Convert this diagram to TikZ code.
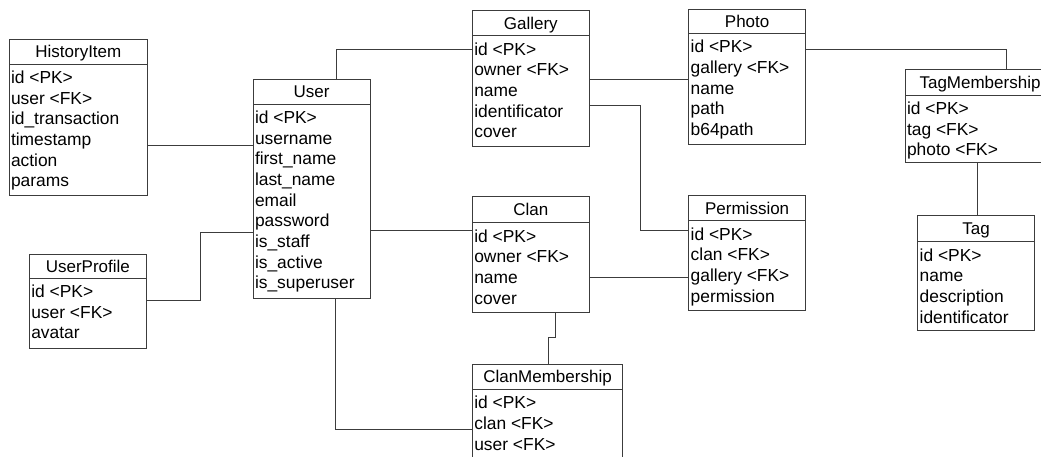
\documentclass[tikz,border=0pt]{standalone}
\usepackage{fontspec}
\setmainfont{Liberation Sans}
\definecolor{linec}{RGB}{60,60,60}
\tikzset{
  erframe/.style={draw=linec, line width=1pt, inner sep=0pt, outer sep=0pt, anchor=north west},
  ertitle/.style={anchor=base, inner sep=0pt, font=\fontsize{17}{20}\selectfont},
  errow/.style={anchor=base west, inner sep=0pt, font=\fontsize{17.4}{20.7}\selectfont},
  conn/.style={draw=linec, line width=1pt}
}
% #1 name, #2 left, #3 right, #4 top, #5 header separator, #6 bottom, #7 title, #8 rows
\newcommand{\erbox}[8]{%
  \node[erframe, minimum width={#3pt-#2pt}, minimum height={#6pt-#4pt}] (#1) at (#2,-#4) {};
  \draw[conn] (#1.west |- 0,-#5) -- (#1.east |- 0,-#5);
  \node[ertitle] (#1-title) at ({(#2+#3)/2},{-(#4+#5)/2-6.2}) {#7};
  \foreach \r [count=\i] in {#8} {
    \node[errow] (#1-row\i) at ({#2+1.8},{-#5-19.3-20.7*(\i-1)}) {\r};
  }
}
\begin{document}
\begin{tikzpicture}[x=1pt,y=1pt]
\useasboundingbox (0,0) rectangle (1041,-456);
\clip (0,0) rectangle (1041,-456);

\erbox{HistoryItem}{9}{147.7}{39}{64}{195.7}{HistoryItem}{id <PK>,user <FK>,id\_transaction,timestamp,action,params}
\erbox{User}{253}{370}{79.3}{104}{298.3}{User}{id <PK>,username,first\_name,last\_name,email,password,is\_staff,is\_active,is\_superuser}
\erbox{UserProfile}{29.3}{146.5}{254.3}{278}{348.3}{UserProfile}{id <PK>,user <FK>,avatar}
\erbox{Gallery}{472.3}{589.3}{10}{35.7}{146}{Gallery}{id <PK>,owner <FK>,name,identificator,cover}
\erbox{Photo}{688.7}{805.6}{9}{33.3}{144}{Photo}{id <PK>,gallery <FK>,name,path,b64path}
\erbox{Clan}{472.3}{589.3}{196.7}{222.7}{312.3}{Clan}{id <PK>,owner <FK>,name,cover}
\erbox{Permission}{688.7}{805.6}{195.3}{220.7}{310.7}{Permission}{id <PK>,clan <FK>,gallery <FK>,permission}
\erbox{TagMembership}{905}{1055}{69.3}{95}{162.7}{TagMembership}{id <PK>,tag <FK>,photo <FK>}
\erbox{Tag}{917.7}{1034.3}{215}{241.7}{330}{Tag}{id <PK>,name,description,identificator}
\erbox{ClanMembership}{472.3}{622.7}{364}{389.3}{459}{ClanMembership}{id <PK>,clan <FK>,user <FK>}

% connectors
\draw[conn] (HistoryItem.east |- 0,-145.7) -- (User.west |- 0,-145.7);
\draw[conn] (UserProfile.east |- 0,-300) -| (200,-232.7) -- (User.west |- 0,-232.7);
\draw[conn] (User.north -| 336,0) |- (Gallery.west |- 0,-49.3);
\draw[conn] (User.east |- 0,-230) -- (Clan.west |- 0,-230);
\draw[conn] (User.south -| 335.7,0) |- (ClanMembership.west |- 0,-429.7);
\draw[conn] (Gallery.east |- 0,-79) -- (Photo.west |- 0,-79);
\draw[conn] (Gallery.east |- 0,-105.7) -| (640,-230) -- (Permission.west |- 0,-230);
\draw[conn] (Clan.east |- 0,-277.3) -- (Permission.west |- 0,-277.3);
\draw[conn] (Photo.east |- 0,-49) -| (TagMembership.north -| 1006,0);
\draw[conn] (TagMembership.south -| 977.7,0) -- (Tag.north -| 977.7,0);
\draw[conn] (Clan.south -| 555.3,0) -- ++(0,-25) -| (ClanMembership.north -| 548.3,0);
\end{tikzpicture}
\end{document}
